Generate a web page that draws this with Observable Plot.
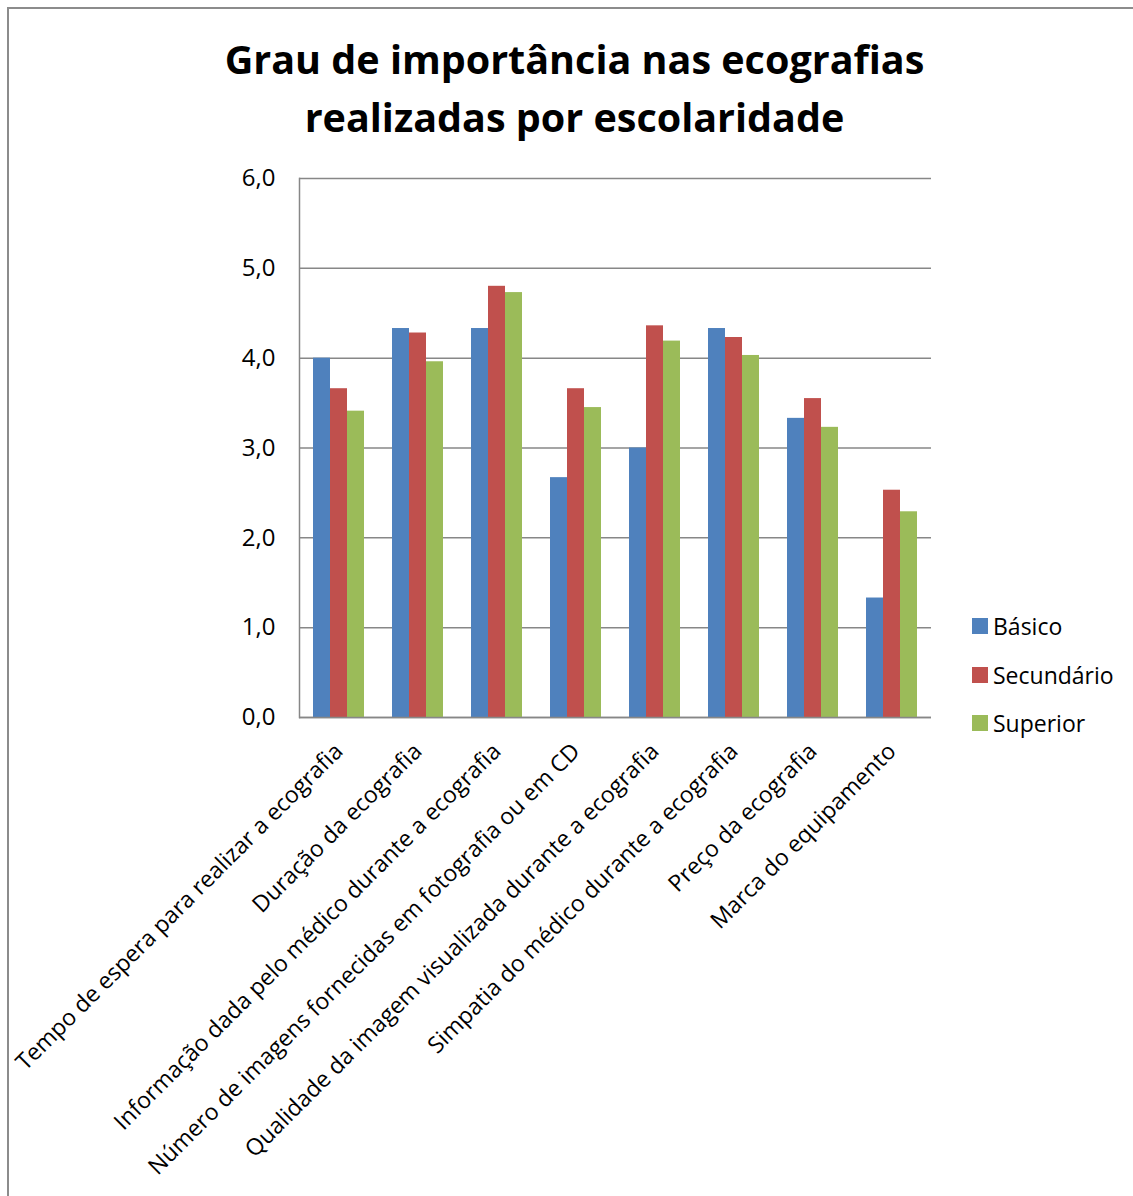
<!DOCTYPE html>
<html>
<head>
<meta charset="utf-8">
<script src="https://cdn.jsdelivr.net/npm/d3@7"></script>
<script src="https://cdn.jsdelivr.net/npm/@observablehq/plot@0.6"></script>
<style>
  html, body { margin: 0; padding: 0; background: #fff; }
  #wrap { position: relative; width: 1133px; height: 1196px; overflow: hidden; font-family: "Open Sans", sans-serif; }
  #border { position: absolute; left: 7px; top: 7px; width: 1140px; height: 1200px; border-left: 2px solid #8c8c8c; border-top: 2px solid #8c8c8c; box-sizing: border-box; }
  #title { position: absolute; left: 16px; top: 0; width: 1117px; height: 160px; text-align: center; font-weight: 700; font-size: 39.5px; line-height: 58px; padding-top: 30px; box-sizing: border-box; color: #000; }
  #chart { position: absolute; left: 0; top: 160px; }
  #legend { position: absolute; left: 972px; top: 602px; font-size: 23px; color: #000; }
  .item { display: flex; align-items: center; height: 48.5px; }
  .sw { width: 16px; height: 16px; margin-right: 5px; }
</style>
</head>
<body>
<div id="wrap">
  <div id="border"></div>
  <div id="title">Grau de importância nas ecografias<br>realizadas por escolaridade</div>
  <div id="chart"></div>
  <div id="legend"></div>
</div>
<script>
const categories = [
  "Tempo de espera para realizar a ecografia",
  "Duração da ecografia",
  "Informação dada pelo médico durante a ecografia",
  "Número de imagens fornecidas em fotografia ou em CD",
  "Qualidade da imagem visualizada durante a ecografia",
  "Simpatia do médico durante a ecografia",
  "Preço da ecografia",
  "Marca do equipamento"
];
const seriesNames = ["Básico", "Secundário", "Superior"];
const basico     = [4.00, 4.33, 4.33, 2.67, 3.00, 4.33, 3.33, 1.33];
const secundario = [3.66, 4.28, 4.80, 3.66, 4.36, 4.23, 3.55, 2.53];
const superior   = [3.41, 3.96, 4.73, 3.45, 4.19, 4.03, 3.23, 2.29];
const yTicks = [0, 1, 2, 3, 4, 5, 6];
const colors = ["#4F81BD", "#C0504D", "#9BBB59"];

const seriesValues = [basico, secundario, superior];
const rows = [];
categories.forEach((c, i) => {
  seriesNames.forEach((s, j) => rows.push({cat: c, series: s, value: seriesValues[j][i]}));
});

const fmt = d => d.toFixed(1).replace(".", ",");

const chart = Plot.plot({
  width: 1133,
  height: 1036,
  marginLeft: 297,
  marginRight: 200,
  marginTop: 18,
  marginBottom: 479,
  style: {fontFamily: "Open Sans, sans-serif", fontSize: "23px", color: "#000", background: "transparent"},
  fx: {domain: categories, padding: 0, axis: "bottom", tickRotate: -45, tickSize: 0, tickPadding: 30, label: null},
  x: {domain: seriesNames, paddingInner: 0, paddingOuter: 0.75, axis: null},
  y: {domain: [0, 6], ticks: yTicks, tickFormat: fmt, tickSize: 0, tickPadding: 24, label: null, grid: false},
  color: {domain: seriesNames, range: colors},
  marks: [
    Plot.gridY(yTicks, {stroke: "#878787", strokeOpacity: 1, strokeWidth: 1.5}),
    Plot.barY(rows, {fx: "cat", x: "series", y: "value", fill: "series"}),
    Plot.ruleY([0], {stroke: "#878787", strokeWidth: 1.5}),
    Plot.frame({anchor: "left", facetAnchor: "left", stroke: "#878787", strokeWidth: 1.5}),
    Plot.axisY(yTicks, {tickFormat: fmt, tickSize: 0, tickPadding: 24, fontSize: 24, label: null})
  ]
});
document.getElementById("chart").appendChild(chart);

const legend = document.getElementById("legend");
seriesNames.forEach((s, j) => {
  const it = document.createElement("div");
  it.className = "item";
  const sw = document.createElement("div");
  sw.className = "sw";
  sw.style.background = colors[j];
  const tx = document.createElement("span");
  tx.textContent = s;
  it.appendChild(sw); it.appendChild(tx);
  legend.appendChild(it);
});
</script>
</body>
</html>
